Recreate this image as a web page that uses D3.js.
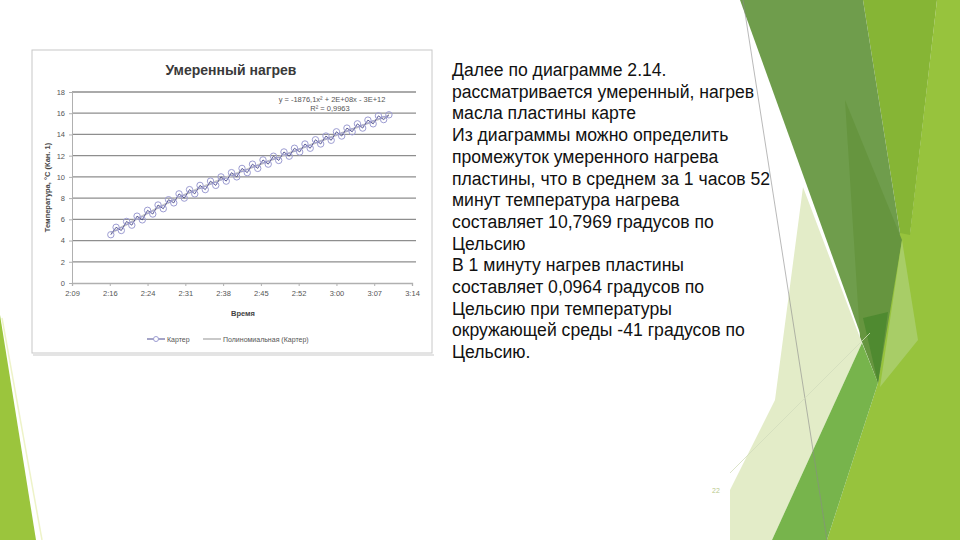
<!DOCTYPE html>
<html lang="ru">
<head>
<meta charset="UTF-8">
<title>Умеренный нагрев</title>
<style>
    body { margin: 0; background: #fff; overflow: hidden; }
    svg { display: block; font-family: "Liberation Sans", Arial, sans-serif; }
    .axis text { font-size: 7.5px; fill: #555; }
    .axis path, .axis line { stroke: #b0b0b0; }
    .slide-text { font-size: 17.6px; fill: #111; }
</style>
</head>
<body>
<svg id="slide" width="960" height="540"></svg>
<script src="https://d3js.org/d3.v7.min.js"></script>
<script>
// time in minutes after midnight (2:16 -> 136), temperature in °C
const times = [137, 138, 139, 140, 141, 142, 143, 144, 145, 146, 147, 148, 149, 150,
    151, 152, 153, 154, 155, 156, 157, 158, 159, 160, 161, 162, 163, 164, 165, 166,
    167, 168, 169, 170, 171, 172, 173, 174, 175, 176, 177, 178, 179, 180, 181, 182,
    183, 184, 185, 186, 187, 188, 189, 190];
const temps = [4.55, 5.25, 4.95, 5.8, 5.45, 6.3, 5.95, 6.85, 6.5, 7.35, 7.0, 7.85, 7.55, 8.4,
    8.0, 8.8, 8.4, 9.2, 8.8, 9.6, 9.2, 10.0, 9.6, 10.4, 10.0, 10.8, 10.4, 11.2, 10.8, 11.6,
    11.2, 11.95, 11.55, 12.35, 11.95, 12.7, 12.35, 13.1, 12.7, 13.5, 13.1, 13.85, 13.45, 14.25,
    13.85, 14.6, 14.25, 15.0, 14.6, 15.35, 15.0, 15.75, 15.4, 15.85];
const trendTimes = [137, 151, 165, 177, 190];
const trendTemps = [4.7, 8.3, 11.1, 13.38, 15.8];
const xTicks = [129.6, 136.8, 144, 151.2, 158.4, 165.6, 172.8, 180, 187.2, 194.4];
const xTickLabels = ["2:09", "2:16", "2:24", "2:31", "2:38", "2:45", "2:52", "3:00", "3:07", "3:14"];
const yTicks = [0, 2, 4, 6, 8, 10, 12, 14, 16, 18];

const textLines = [
    "Далее по диаграмме  2.14.",
    "рассматривается умеренный, нагрев",
    "масла пластины карте",
    "Из диаграммы можно определить",
    "промежуток умеренного нагрева",
    "пластины, что в среднем за 1 часов 52",
    "минут температура нагрева",
    "составляет 10,7969 градусов по",
    "Цельсию",
    "В 1 минуту нагрев пластины",
    "составляет 0,0964 градусов по",
    "Цельсию при температуры",
    "окружающей среды -41 градусов по",
    "Цельсию."
];

const svg = d3.select("#slide");

// ---- decorative slide background (green facets) ----
const deco = svg.append("g");
const facets = [
    { pts: [[0, 315], [0, 540], [36, 540]], fill: "#9bc53d" },
    { pts: [[937, 0], [960, 0], [960, 540], [827, 540], [878, 383], [900, 233], [910, 233]], fill: "#97c33d" },
    { pts: [[863, 0], [937, 0], [910, 235], [900, 233]], fill: "#86b535" },
    { pts: [[803, 187], [862, 343], [772, 540], [730, 540], [730, 490], [775, 400]], fill: "#e3ecc8" },
    { pts: [[740, 0], [863, 0], [900, 233], [878, 383]], fill: "#6f9d4c" },
    { pts: [[845, 100], [902, 240], [878, 383], [860, 337]], fill: "#66953f" },
    { pts: [[902, 240], [918, 340], [880, 387]], fill: "#a8cd67" },
    { pts: [[862, 343], [878, 383], [827, 540], [772, 540]], fill: "#77b44c" },
    { pts: [[863, 318], [888, 312], [878, 383]], fill: "#4f8a30" }
];
facets.forEach(f => {
    deco.append("polygon")
        .attr("points", f.pts.map(p => p.join(",")).join(" "))
        .attr("fill", f.fill);
});
deco.append("line").attr("x1", 743).attr("y1", 0).attr("x2", 827).attr("y2", 540)
    .attr("stroke", "#8a8a8a").attr("stroke-width", 0.6);
deco.append("line").attr("x1", 730).attr("y1", 473).attr("x2", 870).attr("y2", 333)
    .attr("stroke", "#d3ddbd").attr("stroke-width", 0.8);
deco.append("line").attr("x1", 2).attr("y1", 318).attr("x2", 42).attr("y2", 540)
    .attr("stroke", "#eef3c8").attr("stroke-width", 1.5);

// ---- chart picture frame ----
svg.append("rect")
    .attr("x", 32).attr("y", 50).attr("width", 400).attr("height", 303)
    .attr("fill", "#fff").attr("stroke", "#c8c8c8").attr("stroke-width", 1);
svg.append("line").attr("x1", 33).attr("y1", 355).attr("x2", 434).attr("y2", 355)
    .attr("stroke", "#e4e4e4").attr("stroke-width", 2);

svg.append("text")
    .attr("x", 231).attr("y", 75)
    .attr("text-anchor", "middle")
    .style("font-size", "14px").style("font-weight", "bold").style("fill", "#3a3a3a")
    .text("Умеренный нагрев");

const x = d3.scaleLinear().domain([129.6, 194.4]).range([72, 412]);
const y = d3.scaleLinear().domain([0, 18]).range([283, 92]);

// gridlines
svg.append("g")
    .selectAll("line")
    .data(yTicks.slice(1))
    .join("line")
    .attr("x1", x(129.6)).attr("x2", 416)
    .attr("y1", d => y(d)).attr("y2", d => y(d))
    .attr("stroke", "#8e8e8e").attr("stroke-width", 1.3);

svg.append("g")
    .attr("class", "axis")
    .attr("transform", `translate(${x(129.6)},0)`)
    .call(d3.axisLeft(y).tickValues(yTicks).tickSize(3).tickPadding(4));

const xAxis = svg.append("g")
    .attr("class", "axis")
    .attr("transform", `translate(0,${y(0)})`)
    .call(d3.axisBottom(x).tickValues(xTicks).tickSize(3).tickPadding(5)
        .tickFormat((d, i) => xTickLabels[i]));
xAxis.select(".domain").attr("stroke", "#8e8e8e").attr("stroke-width", 1.3);

svg.append("text")
    .attr("x", 243).attr("y", 316)
    .attr("text-anchor", "middle")
    .style("font-size", "7.5px").style("font-weight", "bold").style("fill", "#444")
    .text("Время");

svg.append("text")
    .attr("transform", `translate(50,${(y(0) + y(18)) / 2}) rotate(-90)`)
    .attr("text-anchor", "middle")
    .style("font-size", "7.5px").style("font-weight", "bold").style("fill", "#444")
    .text("Температура, °С (Кан. 1)");

// trend line
const trendLine = d3.line()
    .x((d, i) => x(trendTimes[i]))
    .y(d => y(d))
    .curve(d3.curveMonotoneX);
svg.append("path")
    .attr("d", trendLine(trendTemps))
    .attr("fill", "none").attr("stroke", "#c9c9c9").attr("stroke-width", 2);

// series
const seriesLine = d3.line()
    .x((d, i) => x(times[i]))
    .y(d => y(d));
svg.append("path")
    .attr("d", seriesLine(temps))
    .attr("fill", "none").attr("stroke", "#4b4b8f").attr("stroke-width", 0.9);

svg.append("g")
    .selectAll("circle")
    .data(temps)
    .join("circle")
    .attr("cx", (d, i) => x(times[i]))
    .attr("cy", d => y(d))
    .attr("r", 3.2)
    .attr("fill", "none")
    .attr("stroke", "#9c9cd2").attr("stroke-width", 1);

// trend equation
svg.append("text")
    .attr("x", 332).attr("y", 102)
    .attr("text-anchor", "middle")
    .style("font-size", "7.5px").style("fill", "#555")
    .text("y = -1876,1x² + 2E+08x - 3E+12");
svg.append("text")
    .attr("x", 330).attr("y", 111)
    .attr("text-anchor", "middle")
    .style("font-size", "7.5px").style("fill", "#555")
    .text("R² = 0,9963");

// legend
const legend = svg.append("g").attr("transform", "translate(0,339)");
legend.append("line").attr("x1", 147).attr("x2", 165).attr("y1", 0).attr("y2", 0)
    .attr("stroke", "#4b4b8f").attr("stroke-width", 1);
legend.append("circle").attr("cx", 156).attr("cy", 0).attr("r", 2.5)
    .attr("fill", "#fff").attr("stroke", "#9c9cd2");
legend.append("text").attr("x", 167).attr("y", 2.5)
    .style("font-size", "7px").style("fill", "#555").text("Картер");
legend.append("line").attr("x1", 203).attr("x2", 221).attr("y1", 0).attr("y2", 0)
    .attr("stroke", "#c9c9c9").attr("stroke-width", 2);
legend.append("text").attr("x", 223).attr("y", 2.5)
    .style("font-size", "7px").style("fill", "#555").text("Полиномиальная (Картер)");

// ---- slide text ----
svg.append("g")
    .selectAll("text")
    .data(textLines)
    .join("text")
    .attr("class", "slide-text")
    .attr("x", 452)
    .attr("y", (d, i) => 76 + i * 21.7)
    .text(d => d);

svg.append("text")
    .attr("x", 716).attr("y", 493)
    .attr("text-anchor", "middle")
    .style("font-size", "7px").style("fill", "#b8c98c")
    .text("22");
</script>
</body>
</html>
